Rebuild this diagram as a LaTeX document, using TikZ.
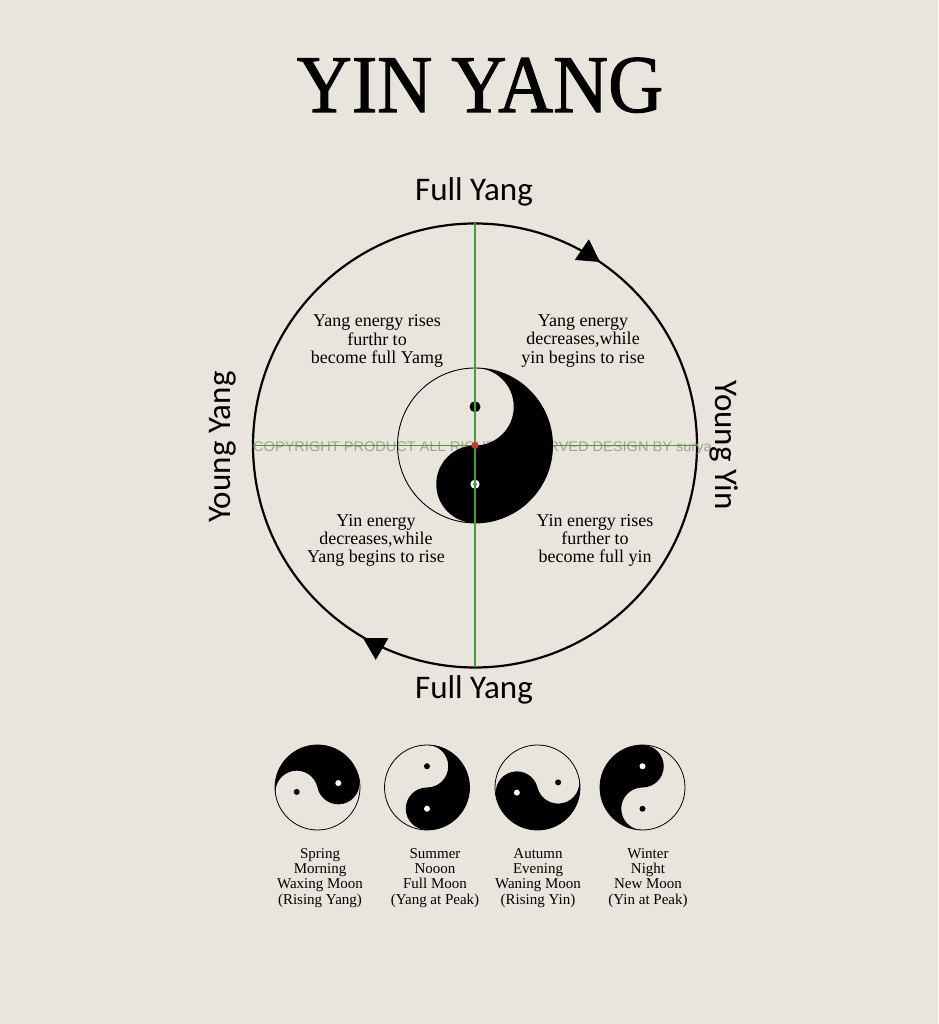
\documentclass[tikz,border=0pt]{standalone}
\usepackage{fontspec}
\setmainfont{Liberation Serif}
\newfontfamily\titlefont[FakeBold=1.3]{Liberation Serif}
\newfontfamily\labelfont{Carlito}
\newfontfamily\wmfont{Liberation Sans}
\definecolor{paper}{HTML}{E9E5DC}
\definecolor{axisgreen}{HTML}{3FA03F}
\definecolor{wmgray}{RGB}{160,160,150}
\definecolor{centerred}{HTML}{D0341F}
\tikzset{
  ringline/.style={line width=2.2, black},
  thinline/.style={line width=0.8, black},
  axisline/.style={line width=1.6, axisgreen},
  sidelabel/.style={font=\labelfont\fontsize{33}{33}\selectfont, inner sep=0},
  phasetext/.style={font=\fontsize{18}{18.3}\selectfont, align=center, inner sep=0},
  captiontext/.style={font=\fontsize{15}{15.3}\selectfont, align=center, inner sep=0, anchor=north},
  arrowtri/.style={fill=black},
}
\newcommand\yinyangsym[5]{%
  \begin{scope}[shift={(#1,#2)}]
    \fill[black] ({#4}:{#3}) arc[start angle={#4}, end angle={#4+180}, radius=#3]
      arc[start angle={#4+180}, end angle={#4}, radius={#3/2}]
      arc[start angle={#4+180}, end angle={#4+360}, radius={#3/2}] -- cycle;
    \draw[thinline] (0,0) circle[radius=#3];
    \fill[white] ({#4}:{#3/2}) circle[radius=#5];
    \fill[black] ({#4+180}:{#3/2}) circle[radius=#5];
  \end{scope}}
\begin{document}
\begin{tikzpicture}[x=1pt,y=1pt]
\useasboundingbox (0,0) rectangle (938,1024);
\fill[paper] (0,0) rectangle (938,1024);

% title
\node[font=\titlefont\fontsize{82}{82}\selectfont, xscale=0.93, anchor=base, inner sep=0] (title) at (480,912) {YIN YANG};

% big cycle
\coordinate (C) at (475,578.5);
\draw[ringline] (C) circle[radius=222];
\coordinate (top) at (475,800.5);
\coordinate (bottom) at (475,356.5);
\coordinate (left) at (253,578.5);
\coordinate (right) at (697,578.5);

% watermark
\node[font=\wmfont\fontsize{14}{14}\selectfont, text=wmgray, anchor=base west, inner sep=0, xscale=1.04] (wm) at (253,572.3) {COPYRIGHT PRODUCT ALL RIGHTS RESERVED DESIGN BY surya};

% horizontal axis (under the symbol)
\draw[axisline] (left) -- (right);

% central yin yang
\begin{scope}[shift={(C)}]
  \fill[black] (-90:77.5) arc[start angle=-90, end angle=90, radius=77.5]
    arc[start angle=90, end angle=-90, radius=38.75]
    arc[start angle=90, end angle=270, radius=38.75] -- cycle;
  \draw[line width=0.9, black] (0,0) circle[radius=77.5];
  \fill[black] (0,38.75) circle[radius=5.5];
  \fill[white] (0,-38.75) circle[radius=4.6];
  \fill[black] (0,-38.75) circle[radius=1.8];
\end{scope}

% vertical axis (over the symbol)
\draw[axisline] (top) -- (bottom);
\fill[centerred] (C) circle[radius=3.5];

% arrowheads
\coordinate (tipA) at (600,762);
\coordinate (tipB) at (363,386);
\begin{scope}[shift={(tipA)}, rotate=-34.3]
  \fill[arrowtri] (0,0) -- (-22,12.5) -- (-22,-12.5) -- cycle;
\end{scope}
\begin{scope}[shift={(tipB)}, rotate=149.8]
  \fill[arrowtri] (0,0) -- (-22,12.5) -- (-22,-12.5) -- cycle;
\end{scope}

% side labels
\node[sidelabel, anchor=base] (fullyangtop) at (474,823) {Full Yang};
\node[sidelabel, anchor=base] (fullyangbot) at (474,325) {Full Yang};
\node[sidelabel, anchor=base, rotate=-90] (youngyin) at (715,579) {Young Yin};
\node[sidelabel, anchor=base, rotate=90] (youngyang) at (230,577) {Young Yang};

% quadrant texts
\node[phasetext] (ul) at (377,683) {Yang energy rises\\furthr to\\become full Yamg};
\node[phasetext] (ur) at (583,683) {Yang energy\\decreases,while\\yin begins to rise};
\node[phasetext] (ll) at (376,483.5) {Yin energy\\decreases,while\\Yang begins to rise};
\node[phasetext] (lr) at (595,483.5) {Yin energy rises\\further to\\become full yin};

% small symbols
\yinyangsym{317.5}{236.5}{42.5}{12}{3}
\yinyangsym{427}{236.5}{42.5}{-90}{3}
\yinyangsym{537.5}{236.5}{42.5}{194}{3}
\yinyangsym{642.5}{236.5}{42.5}{90}{3}

% captions
\node[captiontext] (cap1) at (320,176) {Spring\\Morning\\Waxing Moon\\(Rising Yang)};
\node[captiontext] (cap2) at (435,176) {Summer\\Nooon\\Full Moon\\(Yang at Peak)};
\node[captiontext] (cap3) at (538,176) {Autumn\\Evening\\Waning Moon\\(Rising Yin)};
\node[captiontext] (cap4) at (648,176) {Winter\\Night\\New Moon\\(Yin at Peak)};
\end{tikzpicture}
\end{document}
